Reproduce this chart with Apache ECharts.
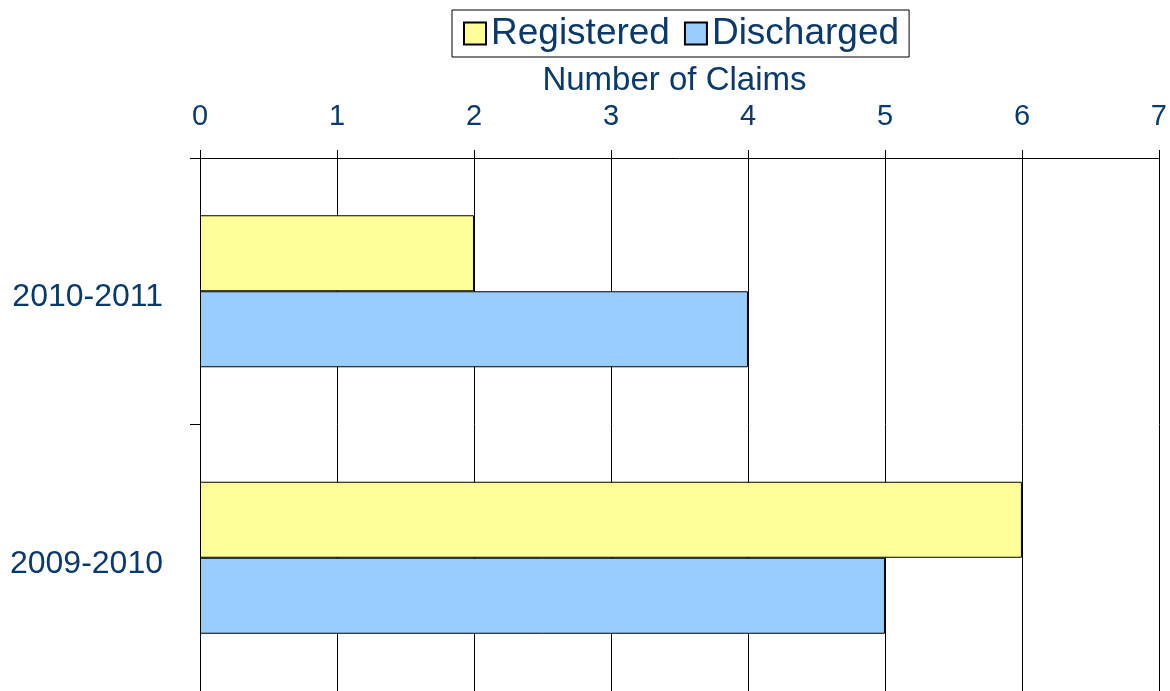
<!DOCTYPE html>
<html>
<head>
<meta charset="utf-8">
<script src="https://cdn.jsdelivr.net/npm/echarts@6/dist/echarts.min.js"></script>
<style>
html,body{margin:0;padding:0;background:#fff;}
#chart{width:1170px;height:691px;}
</style>
</head>
<body>
<div id="chart"></div>
<script>
var categories = ['2010-2011', '2009-2010'];
var registered = [2, 6];
var discharged = [4, 5];
var seriesNames = ['Registered', 'Discharged'];
var xTicks = [0, 1, 2, 3, 4, 5, 6, 7];
var axisTitle = 'Number of Claims';

var textColor = '#0a3a6b';
var font = '"Liberation Sans", Arial, sans-serif';

var chart = echarts.init(document.getElementById('chart'), null, {renderer: 'canvas'});
chart.setOption({
  animation: false,
  backgroundColor: '#ffffff',
  textStyle: {fontFamily: font, color: textColor},
  legend: {
    data: seriesNames,
    icon: 'rect',
    left: 452,
    top: 10,
    orient: 'horizontal',
    backgroundColor: '#ffffff',
    borderColor: '#000000',
    borderWidth: 1,
    padding: [5, 10, 5, 11],
    itemGap: 14,
    itemWidth: 22,
    itemHeight: 22,
    textStyle: {fontFamily: font, fontSize: 37, color: textColor}
  },
  grid: {left: 200, top: 158, width: 960, height: 538, containLabel: false},
  xAxis: {
    type: 'value',
    position: 'top',
    min: xTicks[0],
    max: xTicks[xTicks.length - 1],
    interval: 1,
    name: axisTitle,
    nameLocation: 'middle',
    nameGap: 56,
    nameTextStyle: {fontFamily: font, fontSize: 33, color: textColor, padding: [0, 10, 0, 0]},
    axisLine: {show: true, lineStyle: {color: '#000000', width: 1}},
    axisTick: {show: true, length: 8, lineStyle: {color: '#000000'}},
    axisLabel: {fontFamily: font, fontSize: 29, color: textColor, margin: 27},
    splitLine: {show: true, lineStyle: {color: '#000000', width: 1}}
  },
  yAxis: {
    type: 'category',
    data: categories,
    inverse: true,
    axisLine: {show: true, lineStyle: {color: '#000000', width: 1}},
    axisTick: {show: true, length: 10, lineStyle: {color: '#000000'}},
    axisLabel: {
      margin: 37,
      formatter: '{a|{value}}',
      rich: {a: {fontFamily: font, fontSize: 32, color: textColor, padding: [12, 0, 0, 0]}}
    },
    splitLine: {show: false}
  },
  series: [
    {
      name: seriesNames[0],
      type: 'bar',
      data: registered,
      barWidth: 76,
      barGap: '0%',
      itemStyle: {color: '#ffff99', borderColor: '#000000', borderWidth: 1}
    },
    {
      name: seriesNames[1],
      type: 'bar',
      data: discharged,
      barWidth: 76,
      barGap: '0%',
      itemStyle: {color: '#99ccff', borderColor: '#000000', borderWidth: 1}
    }
  ]
});
</script>
</body>
</html>
